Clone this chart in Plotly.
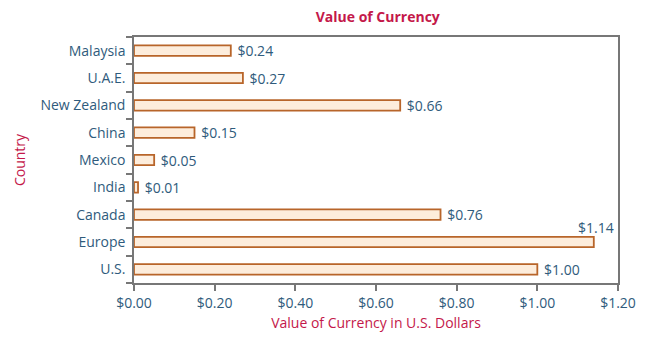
import plotly.graph_objects as go

countries = ["U.S.", "Europe", "Canada", "India", "Mexico", "China", "New Zealand", "U.A.E.", "Malaysia"]
values = [1.00, 1.14, 0.76, 0.01, 0.05, 0.15, 0.66, 0.27, 0.24]
x_ticks = [0, 0.2, 0.4, 0.6, 0.8, 1.0, 1.2]

FONT = "Open Sans"
SIZE = 14
LABEL = "#2f5b7c"
RED = "#c4184a"

# Labels outside bars, except the one that would run past the frame
inside_range = [v <= 1.1 for v in values]
texts = ["\u00a0" + f"${v:.2f}" if ok else "" for v, ok in zip(values, inside_range)]

fig = go.Figure()
fig.add_trace(go.Bar(
    x=values, y=countries, orientation="h",
    width=0.38,
    marker=dict(color="#fdeddc", line=dict(color="#b8652a", width=1.8)),
    text=texts, textposition="outside", cliponaxis=False, constraintext="none",
    textfont=dict(family=FONT, size=SIZE, color=LABEL),
    hoverinfo="skip",
))

for v, c, ok in zip(values, countries, inside_range):
    if not ok:
        fig.add_annotation(x=v, y=c, text=f"${v:.2f}", showarrow=False,
                           yshift=15, xshift=2, xanchor="center",
                           font=dict(family=FONT, size=SIZE, color=LABEL))

fig.update_layout(
    width=648, height=348,
    margin=dict(l=134, r=25, t=37, b=65),
    paper_bgcolor="white", plot_bgcolor="white",
    showlegend=False,
    title=dict(text="<b>Value of Currency</b>", x=0.583, xanchor="center", y=0.95, yanchor="middle",
               font=dict(family=FONT, size=SIZE, color=RED)),
    font=dict(family=FONT, size=SIZE, color=LABEL),
)
fig.update_xaxes(
    range=[0, 1.2], tickvals=x_ticks, tickformat="$.2f",
    showgrid=False, zeroline=False,
    showline=True, linecolor="#777", linewidth=1.5, mirror=True,
    ticks="outside", ticklen=6, tickcolor="#777", tickwidth=1.5,
    tickfont=dict(family=FONT, size=SIZE, color=LABEL),
    title=dict(text="Value of Currency in U.S. Dollars", standoff=8,
               font=dict(family=FONT, size=SIZE, color=RED)),
)
fig.update_yaxes(
    categoryorder="array", categoryarray=countries,
    showgrid=False, zeroline=False,
    showline=True, linecolor="#777", linewidth=1.5, mirror=True,
    ticks="outside", tickson="boundaries", ticklen=6, tickcolor="#777", tickwidth=1.5,
    ticklabelstandoff=4,
    tickfont=dict(family=FONT, size=SIZE, color=LABEL),
    title=dict(text="Country", standoff=12,
               font=dict(family=FONT, size=SIZE, color=RED)),
)

fig.write_html("out.html")
